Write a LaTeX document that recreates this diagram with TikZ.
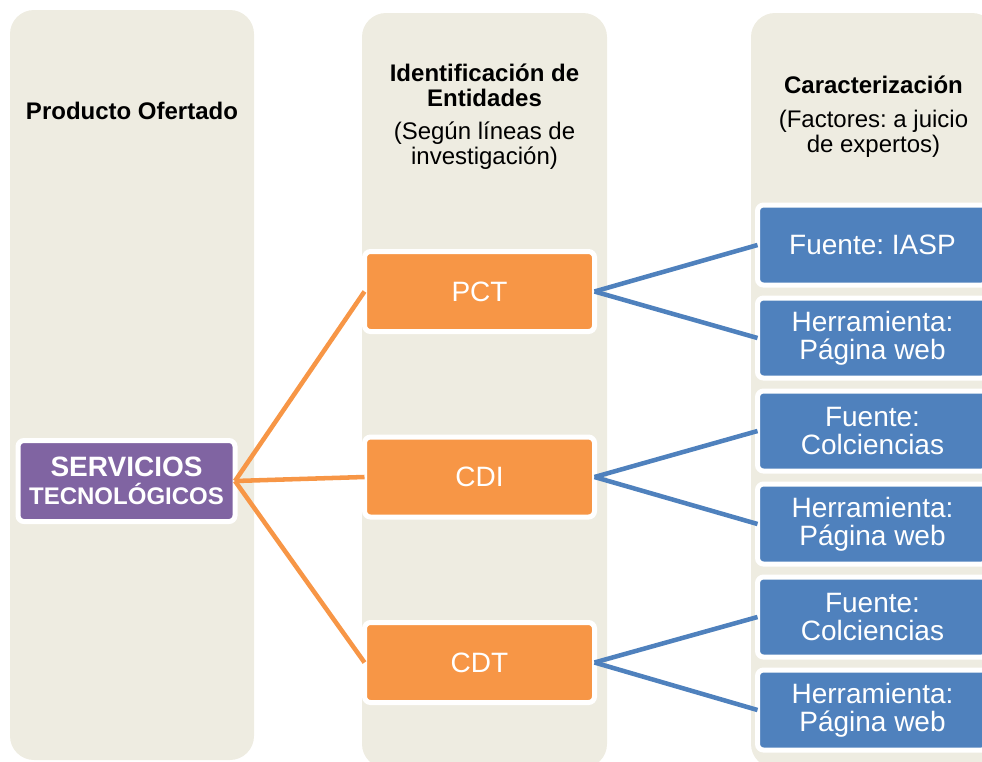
\documentclass[tikz,border=0pt]{standalone}
\usepackage{fontspec}
\setmainfont{Liberation Sans}
\frenchspacing

\definecolor{colbg}{RGB}{238,236,225}
\definecolor{boxorange}{RGB}{247,150,70}
\definecolor{boxblue}{RGB}{79,129,189}
\definecolor{boxpurple}{RGB}{128,100,162}

\tikzset{every picture/.style={line width=0.75pt}}
\tikzset{
  entbox/.style={draw=white, line width=3.75pt, rounded corners=4.5pt, fill=boxorange, text=white,
    minimum width=172.5pt, minimum height=60pt, inner sep=0pt, outer sep=0pt, align=center,
    font=\fontsize{21}{21}\selectfont},
  charbox/.style={entbox, fill=boxblue},
  prodbox/.style={entbox, fill=boxpurple, minimum width=162.75pt, minimum height=60.75pt},
  headtxt/.style={inner sep=0pt, align=center, font=\fontsize{18}{18.75}\selectfont\bfseries},
  subtxt/.style={inner sep=0pt, align=center, font=\fontsize{18}{18.75}\selectfont},
  orangelink/.style={draw=boxorange, line width=3.4pt},
  bluelink/.style={draw=boxblue, line width=3.4pt},
  colpanel/.style={fill=colbg, rounded corners=18pt}
}

\begin{document}
\begin{tikzpicture}[x=0.75pt,y=0.75pt,yscale=-1,xscale=1]
\clip (0,0) rectangle (982,761);

%Shape: Rounded Rect [id:col1]
\fill [colpanel] (10,10) rectangle (254,760);
%Shape: Rounded Rect [id:col2]
\fill [colpanel] (362,13) rectangle (607,768);
%Shape: Rounded Rect [id:col3]
\fill [colpanel] (751,13) rectangle (996,768);

% Text Node
\draw (132,119) node [anchor=base][headtxt] (prodhead) {Producto Ofertado};
% Text Node
\draw (484.5,106) node [anchor=base][headtxt] (enthead) {Identificación de\\Entidades};
% Text Node
\draw (484.5,164) node [anchor=base][subtxt] (entsub) {(Según líneas de\\investigación)};
% Text Node
\draw (873.5,93) node [anchor=base][headtxt] (carhead) {Caracterización};
% Text Node
\draw (873.5,152) node [anchor=base][subtxt] (carsub) {(Factores: a juicio\\de expertos)};

%Shape: Box [id:prod]
\draw (126.5,481) node [prodbox] (prod) {\fontsize{21}{19.5}\selectfont\bfseries SERVICIOS\\\fontsize{18}{19.5}\selectfont\bfseries TECNOLÓGICOS};

%Shape: Box [id:ent]
\draw (479.5,291.5) node [entbox] (pct) {PCT};
\draw (479.5,477) node [entbox] (cdi) {CDI};
\draw (479.5,662.5) node [entbox] (cdt) {CDT};

%Shape: Box [id:char]
\draw (872.5,245) node [charbox] (pctsrc) {Fuente: IASP};
\draw (872.5,338) node [charbox] (pcttool) {Herramienta:\\Página web};
\draw (872.5,431) node [charbox] (cdisrc) {Fuente:\\Colciencias};
\draw (872.5,524) node [charbox] (cditool) {Herramienta:\\Página web};
\draw (872.5,617) node [charbox] (cdtsrc) {Fuente:\\Colciencias};
\draw (872.5,710) node [charbox] (cdttool) {Herramienta:\\Página web};

%Straight Lines [id:orange]
\draw [orangelink] (prod.east) -- (pct.west);
\draw [orangelink] (prod.east) -- (cdi.west);
\draw [orangelink] (prod.east) -- (cdt.west);

%Straight Lines [id:blue]
\draw [bluelink] (pct.east) -- (pctsrc.west);
\draw [bluelink] (pct.east) -- (pcttool.west);
\draw [bluelink] (cdi.east) -- (cdisrc.west);
\draw [bluelink] (cdi.east) -- (cditool.west);
\draw [bluelink] (cdt.east) -- (cdtsrc.west);
\draw [bluelink] (cdt.east) -- (cdttool.west);

\end{tikzpicture}
\end{document}
